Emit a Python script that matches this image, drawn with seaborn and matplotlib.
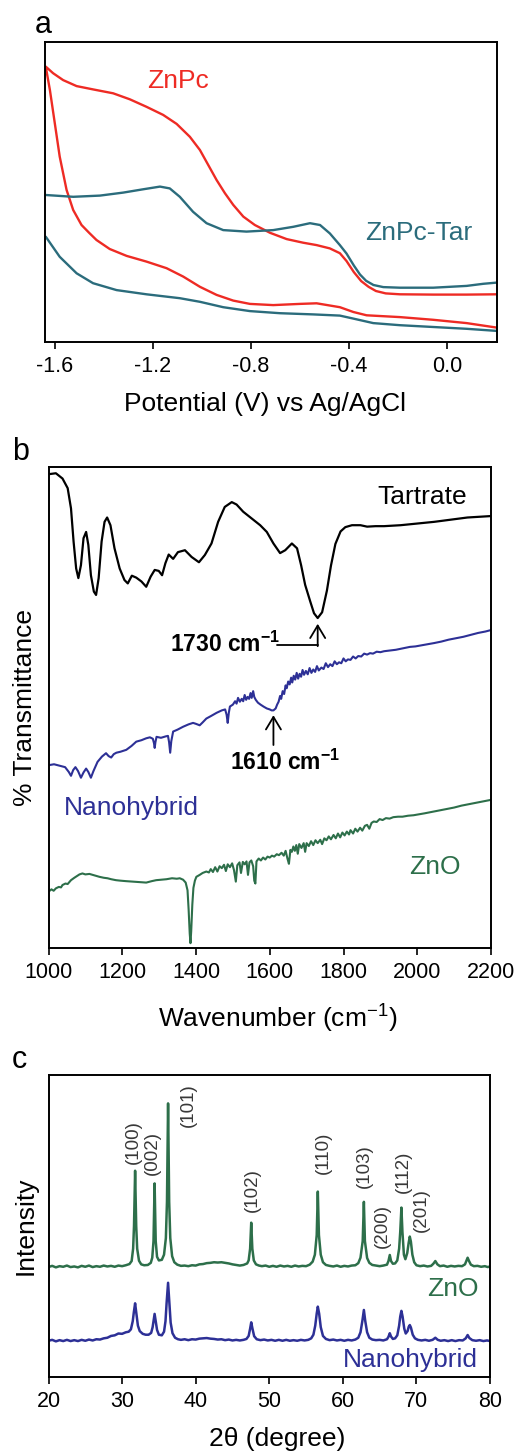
import numpy as np
import pandas as pd
import matplotlib
matplotlib.use("Agg")
import matplotlib.pyplot as plt
import seaborn as sns

# ---------------- (a) cyclic voltammetry ----------------
# upper (cathodic sweep) and lower (return sweep) branches, listed left to right
znpc_up_v = [-1.637, -1.607, -1.566, -1.511, -1.444, -1.362, -1.294, -1.226, -1.158, -1.103,
             -1.049, -1.008, -0.974, -0.940, -0.906, -0.872, -0.831, -0.784, -0.722, -0.654,
             -0.587, -0.532, -0.478, -0.437, -0.41, -0.38, -0.35, -0.32, -0.29, -0.25,
             -0.192, -0.056, 0.080, 0.203]
znpc_up_i = [91.8, 89.6, 87.3, 85.3, 84.2, 82.9, 80.9, 78.4, 75.7, 72.7,
             68.4, 64.0, 59.0, 54.0, 49.6, 45.7, 41.8, 39.0, 36.4, 34.3,
             33.1, 32.3, 31.2, 29.6, 27.0, 23.3, 20.3, 18.4, 17.0, 16.2,
             15.9, 15.8, 15.8, 15.9]
znpc_lo_v = [-1.637, -1.620, -1.600, -1.580, -1.552, -1.525, -1.491, -1.460, -1.430, -1.376,
             -1.307, -1.226, -1.144, -1.076, -1.008, -0.940, -0.872, -0.804, -0.709, -0.600,
             -0.532, -0.437, -0.382, -0.328, -0.192, -0.056, 0.080, 0.203]
znpc_lo_i = [91.8, 84.0, 72.9, 61.8, 50.7, 44.0, 39.0, 36.4, 34.0, 31.0,
             28.7, 26.8, 24.6, 21.8, 18.4, 15.7, 13.8, 12.7, 12.3, 12.7,
             12.9, 11.6, 10.0, 8.9, 8.3, 7.4, 6.3, 4.8]

tar_up_v = [-1.637, -1.525, -1.416, -1.321, -1.240, -1.171, -1.131, -1.090, -1.036, -0.981,
            -0.913, -0.818, -0.709, -0.627, -0.559, -0.518, -0.478, -0.437, -0.41, -0.38,
            -0.355, -0.33, -0.30, -0.26, -0.192, -0.056, 0.080, 0.148, 0.203]
tar_up_i = [49.0, 48.4, 48.8, 49.8, 50.9, 51.8, 51.2, 48.4, 43.4, 39.6,
            37.3, 36.8, 37.3, 38.4, 39.6, 39.0, 36.2, 32.3, 29.5, 25.5,
            22.5, 20.4, 19.0, 18.3, 18.1, 18.1, 18.7, 19.4, 19.8]
tar_lo_v = [-1.637, -1.580, -1.511, -1.444, -1.348, -1.226, -1.090, -1.008, -0.913, -0.804,
            -0.682, -0.546, -0.437, -0.382, -0.301, -0.192, -0.056, 0.080, 0.203]
tar_lo_i = [35.1, 28.4, 22.9, 19.6, 17.3, 15.9, 14.6, 13.4, 11.6, 10.3,
            9.6, 9.2, 8.8, 7.8, 6.3, 5.6, 5.0, 4.4, 3.7]

cv_ticks = [-1.6, -1.2, -0.8, -0.4, 0.0]

# ---------------- (b) FTIR ----------------
tartrate_wn = [1000, 1020, 1038, 1052, 1061, 1068, 1075, 1081, 1088, 1095,
               1102, 1108, 1115, 1123, 1129, 1136, 1144, 1152, 1159, 1168,
               1179, 1193, 1206, 1215, 1226, 1238, 1252, 1265, 1277, 1288,
               1299, 1308, 1317, 1326, 1338, 1351, 1370, 1388, 1408, 1424,
               1442, 1460, 1478, 1497, 1510, 1528, 1551, 1574, 1592, 1610,
               1628, 1642, 1660, 1674, 1685, 1696, 1710, 1720, 1730, 1742,
               1755, 1766, 1778, 1792, 1805, 1823, 1846, 1864, 1887, 1910,
               1955, 2046, 2136, 2200]
tartrate_t = [98.5, 98.7, 97.6, 95.6, 91.4, 84.5, 78.9, 76.9, 79.6, 85.2,
              86.5, 83.8, 77.5, 74.1, 73.4, 76.9, 84.5, 88.6, 89.5, 87.9,
              83.1, 78.9, 76.5, 75.8, 77.4, 77.0, 76.2, 75.1, 77.2, 78.6,
              78.4, 77.5, 80.0, 81.8, 80.9, 82.3, 82.7, 81.3, 80.2, 81.7,
              84.1, 88.6, 91.7, 92.7, 92.2, 90.7, 89.3, 87.9, 86.5, 84.1,
              82.1, 82.7, 84.1, 83.1, 79.6, 75.5, 72.0, 69.6, 68.6, 69.8,
              74.3, 79.5, 84.0, 86.6, 87.5, 87.9, 87.9, 87.6, 87.7, 87.7,
              87.9, 88.6, 89.5, 89.8]

hybrid_wn = [1000, 1015, 1030, 1045, 1055, 1061, 1067, 1073, 1080, 1088, 1095, 1102, 1108, 1115,
             1122, 1133, 1145, 1156, 1163, 1170, 1177, 1184, 1195, 1211, 1225, 1238, 1252, 1265,
             1275, 1283, 1286, 1288, 1290, 1293, 1305, 1318, 1324, 1327, 1330, 1333, 1338, 1350,
             1365, 1380, 1392, 1400, 1410, 1418, 1428, 1440, 1456, 1470, 1479, 1483, 1486, 1489,
             1492, 1500, 1506, 1510, 1514, 1519, 1524, 1528, 1532, 1536, 1540, 1544, 1548, 1551,
             1555, 1558, 1562, 1568, 1575, 1583, 1592, 1600, 1605, 1610, 1616, 1620, 1624, 1628,
             1631, 1635, 1639, 1643, 1646, 1650, 1654, 1658, 1661, 1665, 1669, 1673, 1677, 1681,
             1685, 1689, 1693, 1698, 1703, 1708, 1713, 1718, 1723, 1728, 1733, 1740, 1746, 1752,
             1758, 1764, 1770, 1776, 1782, 1788, 1794, 1800, 1806, 1812, 1819, 1826, 1833, 1840,
             1848, 1856, 1864, 1872, 1880, 1890, 1900, 1910, 1920, 1930, 1942, 1955, 1968, 1980,
             1995, 2010, 2025, 2046, 2065, 2085, 2105, 2125, 2145, 2165, 2185, 2200]
hybrid_t = [38.0, 38.2, 37.9, 37.6, 36.6, 35.8, 37.0, 37.6, 36.8, 35.4, 36.5, 37.3, 36.6, 35.4,
            36.8, 38.7, 39.8, 40.5, 39.9, 39.6, 40.3, 40.6, 40.8, 41.2, 42.0, 42.9, 43.2, 43.6,
            43.8, 43.5, 42.6, 41.6, 42.8, 43.9, 43.7, 44.0, 44.1, 42.8, 40.6, 43.0, 45.0, 45.4,
            46.0, 46.5, 46.8, 46.6, 46.3, 46.9, 47.7, 48.2, 48.9, 49.4, 49.6, 48.5, 46.8, 48.9,
            50.2, 50.6, 51.3, 50.8, 52.0, 51.2, 51.8, 51.3, 52.6, 51.6, 52.2, 51.8, 53.0, 52.0,
            53.4, 52.2, 51.6, 51.0, 50.6, 50.2, 49.8, 49.6, 49.4, 49.4, 49.8, 50.6, 51.2, 52.4,
            51.8, 53.4, 52.8, 54.6, 54.0, 55.4, 54.8, 56.2, 55.2, 56.6, 55.8, 57.2, 56.0, 57.0,
            56.4, 57.8, 56.8, 57.6, 56.9, 58.2, 57.2, 57.9, 57.4, 58.6, 57.7, 58.3, 58.0, 59.2,
            58.4, 59.0, 58.6, 59.6, 59.0, 59.4, 59.2, 60.2, 59.6, 60.0, 59.9, 60.6, 60.2, 60.7,
            60.6, 61.2, 61.0, 61.3, 61.2, 61.6, 61.5, 61.7, 61.8, 61.9, 62.0, 62.2, 62.4, 62.6,
            62.7, 62.9, 63.1, 63.4, 63.7, 64.1, 64.4, 64.7, 65.1, 65.5, 65.8, 66.1]

zno_wn = [1000, 1008, 1014, 1020, 1028, 1034, 1038, 1046, 1052, 1061, 1070, 1078, 1084, 1092,
          1100, 1111, 1120, 1130, 1138, 1150, 1160, 1170, 1183, 1195, 1210, 1229, 1245, 1265,
          1280, 1292, 1306, 1320, 1335, 1348, 1356, 1365, 1372, 1377, 1380, 1383, 1385, 1387,
          1390, 1393, 1397, 1401, 1410, 1418, 1428, 1435, 1440, 1446, 1452, 1458, 1464, 1470,
          1476, 1481, 1486, 1492, 1498, 1503, 1508, 1512, 1518, 1522, 1527, 1532, 1537, 1541,
          1545, 1550, 1555, 1558, 1561, 1564, 1570, 1576, 1582, 1588, 1594, 1600, 1606, 1612,
          1619, 1625, 1632, 1638, 1643, 1648, 1652, 1656, 1660, 1664, 1668, 1672, 1676, 1680,
          1686, 1692, 1696, 1700, 1706, 1712, 1718, 1724, 1730, 1737, 1742, 1748, 1754, 1760,
          1766, 1773, 1779, 1785, 1791, 1797, 1803, 1809, 1815, 1819, 1826, 1832, 1838, 1845,
          1851, 1858, 1864, 1870, 1876, 1882, 1890, 1898, 1906, 1915, 1925, 1935, 1948, 1960,
          1975, 1990, 2005, 2020, 2040, 2060, 2080, 2100, 2120, 2140, 2160, 2180, 2200]
zno_t = [11.7, 12.2, 11.9, 12.4, 12.7, 12.6, 13.1, 13.4, 13.3, 14.1, 14.6, 15.0, 15.3, 15.5,
         15.3, 15.4, 15.2, 15.0, 14.8, 14.6, 14.5, 14.3, 14.1, 14.0, 13.9, 13.8, 13.7, 13.6,
         13.9, 14.1, 14.2, 14.3, 14.5, 14.4, 14.5, 14.2, 13.6, 12.0, 8.0, 3.0, 1.0, 3.5,
         9.0, 12.5, 14.0, 14.8, 15.2, 15.6, 15.9, 15.7, 16.4, 15.8, 16.8, 15.9, 17.0, 16.6,
         17.3, 16.0, 17.4, 16.8, 17.6, 16.2, 13.8, 17.2, 17.8, 15.6, 17.9, 17.4, 18.0, 15.2,
         17.8, 18.2, 17.0, 14.0, 13.4, 18.0, 18.6, 18.2, 18.8, 18.4, 19.0, 18.8, 19.2, 19.0,
         19.5, 19.3, 19.8, 19.2, 20.2, 18.6, 17.5, 20.4, 20.0, 21.1, 20.2, 21.4, 19.6, 21.6,
         20.8, 21.8, 20.0, 21.8, 21.2, 22.2, 21.4, 22.4, 21.8, 22.5, 21.6, 22.8, 22.4, 23.2,
         22.6, 23.5, 22.8, 23.8, 23.0, 24.0, 23.4, 24.2, 23.6, 24.5, 23.8, 24.8, 24.2, 25.0,
         24.4, 25.4, 25.6, 24.8, 26.0, 26.3, 26.2, 26.8, 26.6, 27.0, 26.9, 27.2, 27.3, 27.3,
         27.5, 27.6, 27.8, 28.0, 28.3, 28.6, 28.9, 29.2, 29.6, 29.9, 30.2, 30.5, 30.8]

ir_ticks = [1000, 1200, 1400, 1600, 1800, 2000, 2200]

# ---------------- (c) XRD ----------------
xrd_zno_2t = [20.0, 20.5, 21.0, 21.5, 22.0, 22.5, 23.0, 23.5, 24.0, 24.5, 25.0, 25.5, 26.0, 26.5,
              27.0, 27.5, 28.0, 28.5, 29.0, 29.5, 30.0, 30.5, 31.0, 31.3, 31.5, 31.62, 31.77, 31.92,
              32.05, 32.3, 32.6, 33.0, 33.5, 33.9, 34.1, 34.27, 34.42, 34.57, 34.75, 35.0, 35.4, 35.7,
              35.95, 36.1, 36.25, 36.4, 36.55, 36.8, 37.1, 37.5, 38.0, 38.5, 39.0, 39.5, 40.0, 40.5,
              41.0, 41.5, 42.0, 42.5, 43.0, 43.5, 44.0, 44.5, 45.0, 45.5, 46.0, 46.5, 47.0, 47.2,
              47.4, 47.55, 47.7, 47.9, 48.2, 48.6, 49.0, 49.5, 50.0, 50.5, 51.0, 51.5, 52.0, 52.5,
              53.0, 53.5, 54.0, 54.5, 55.0, 55.5, 55.9, 56.2, 56.45, 56.6, 56.75, 57.0, 57.3, 57.7,
              58.2, 58.7, 59.2, 59.7, 60.2, 60.7, 61.2, 61.7, 62.1, 62.4, 62.7, 62.86, 63.0, 63.3,
              63.6, 64.0, 64.5, 65.0, 65.5, 66.0, 66.2, 66.38, 66.55, 66.8, 67.1, 67.4, 67.65, 67.8,
              67.96, 68.1, 68.3, 68.5, 68.75, 68.95, 69.1, 69.25, 69.45, 69.7, 70.0, 70.5, 71.0, 71.5,
              72.0, 72.3, 72.57, 72.85, 73.2, 73.7, 74.2, 74.7, 75.2, 75.7, 76.2, 76.6, 76.8, 76.96,
              77.15, 77.4, 77.8, 78.3, 78.8, 79.3, 79.7, 80.0]
xrd_zno_i = [36.4, 36.8, 36.3, 36.7, 36.5, 36.9, 36.4, 36.6, 36.3, 36.8, 36.5, 36.9, 36.4, 36.7,
             36.5, 36.9, 36.6, 36.8, 36.5, 36.9, 36.7, 37.0, 37.4, 38.4, 42.5, 50.0, 68.3, 50.0,
             42.5, 38.5, 37.3, 37.0, 37.1, 37.8, 39.5, 45.0, 64.1, 45.0, 39.8, 38.6, 38.8, 40.5,
             46.0, 58.0, 90.6, 58.0, 46.0, 40.0, 38.0, 37.2, 36.8, 36.9, 36.7, 37.0, 36.9, 37.3,
             37.4, 37.7, 37.8, 38.0, 37.9, 38.0, 37.8, 37.6, 37.3, 37.1, 36.9, 37.1, 37.6, 38.6,
             42.5, 51.1, 42.5, 38.6, 37.3, 36.9, 36.7, 36.9, 36.5, 36.8, 36.5, 36.9, 36.6, 36.8,
             36.5, 36.9, 36.6, 36.8, 36.7, 37.2, 38.2, 40.5, 47.0, 61.4, 47.0, 40.5, 38.0, 37.1,
             36.8, 36.6, 36.9, 36.5, 36.8, 36.6, 36.9, 37.0, 37.7, 39.5, 45.0, 58.0, 45.0, 39.4,
             37.8, 37.1, 36.9, 36.7, 36.9, 37.2, 38.4, 40.4, 38.4, 37.5, 37.6, 38.6, 42.5, 48.0,
             56.1, 48.0, 40.5, 39.0, 41.0, 44.5, 46.5, 44.8, 40.5, 38.0, 37.0, 36.7, 36.9, 36.6,
             36.8, 37.5, 38.4, 37.3, 36.7, 36.9, 36.5, 36.8, 36.6, 36.8, 36.7, 37.3, 38.5, 39.5,
             38.4, 37.2, 36.7, 36.8, 36.5, 36.7, 36.4, 36.6]

xrd_hyb_2t = [20.0, 20.5, 21.0, 21.5, 22.0, 22.5, 23.0, 23.5, 24.0, 24.5, 25.0, 25.5, 26.0, 26.5,
              27.0, 27.5, 28.0, 28.5, 29.0, 29.5, 30.0, 30.5, 30.9, 31.2, 31.45, 31.6, 31.77, 31.95,
              32.15, 32.4, 32.8, 33.2, 33.6, 33.95, 34.15, 34.3, 34.42, 34.55, 34.75, 35.0, 35.4, 35.7,
              35.9, 36.05, 36.25, 36.42, 36.6, 36.85, 37.2, 37.6, 38.0, 38.5, 39.0, 39.5, 40.0, 40.5,
              41.0, 41.5, 42.0, 42.5, 43.0, 43.5, 44.0, 44.5, 45.0, 45.5, 46.0, 46.5, 46.9, 47.2,
              47.4, 47.55, 47.72, 47.95, 48.3, 48.8, 49.3, 49.8, 50.3, 50.8, 51.3, 51.8, 52.3, 52.8,
              53.3, 53.8, 54.3, 54.8, 55.3, 55.7, 56.0, 56.25, 56.45, 56.6, 56.78, 57.0, 57.3, 57.7,
              58.2, 58.7, 59.2, 59.7, 60.2, 60.7, 61.2, 61.7, 62.1, 62.4, 62.65, 62.86, 63.05, 63.3,
              63.6, 64.0, 64.5, 65.0, 65.5, 66.0, 66.2, 66.38, 66.55, 66.8, 67.1, 67.4, 67.65, 67.8,
              67.96, 68.12, 68.35, 68.55, 68.8, 68.95, 69.1, 69.25, 69.5, 69.8, 70.2, 70.7, 71.2, 71.7,
              72.2, 72.57, 72.9, 73.3, 73.8, 74.3, 74.8, 75.3, 75.8, 76.3, 76.7, 76.96, 77.2, 77.6,
              78.1, 78.6, 79.1, 79.6, 80.0]
xrd_hyb_i = [12.0, 12.3, 11.8, 12.2, 11.9, 12.3, 11.9, 12.2, 11.9, 12.3, 12.0, 12.4, 12.1, 12.5,
             12.4, 12.8, 13.0, 13.6, 13.8, 14.4, 14.3, 14.8, 15.0, 15.8, 18.5, 21.5, 24.4, 21.0,
             17.0, 15.2, 14.3, 14.0, 14.0, 14.6, 16.5, 19.0, 20.9, 18.8, 15.6, 14.0, 13.8, 15.0,
             18.5, 24.5, 31.2, 24.5, 18.0, 14.5, 13.0, 12.5, 12.3, 12.5, 12.2, 12.5, 12.4, 12.7,
             12.8, 12.9, 12.7, 12.6, 12.4, 12.5, 12.2, 12.4, 12.1, 12.3, 12.1, 12.3, 12.6, 13.6,
             16.0, 18.1, 16.0, 13.5, 12.5, 12.2, 12.4, 12.1, 12.3, 12.0, 12.3, 12.0, 12.3, 12.0,
             12.2, 12.0, 12.3, 12.1, 12.3, 12.8, 14.0, 17.0, 21.0, 23.3, 21.0, 16.5, 13.6, 12.6,
             12.2, 12.4, 12.1, 12.3, 12.0, 12.3, 12.1, 12.4, 13.0, 14.8, 18.5, 22.2, 18.5, 14.8,
             13.0, 12.4, 12.2, 12.3, 12.1, 12.5, 13.3, 14.5, 13.4, 12.6, 12.8, 13.8, 17.0, 20.0,
             21.9, 20.0, 16.0, 14.4, 15.2, 16.6, 17.2, 16.4, 14.0, 12.8, 12.3, 12.1, 12.3, 12.0,
             12.3, 13.0, 12.3, 12.0, 12.2, 11.9, 12.2, 11.9, 12.2, 12.1, 12.8, 13.9, 12.9, 12.2,
             12.0, 12.2, 11.9, 12.1, 11.9]

xrd_ticks = [20, 30, 40, 50, 60, 70, 80]
hkl_labels = ["(100)", "(002)", "(101)", "(102)", "(110)", "(103)", "(200)", "(112)", "(201)"]
hkl_pos = [31.57, 34.09, 39.04, 47.67, 57.38, 62.88, 65.33, 68.25, 70.69]
hkl_height = [77.8, 74.2, 90.1, 61.9, 74.2, 69.9, 50.0, 67.9, 55.3]

# ---------------- styling ----------------
sns.set_theme(style="ticks")
plt.rcParams["font.family"] = ["Liberation Sans", "DejaVu Sans"]
plt.rcParams["axes.unicode_minus"] = False
plt.rcParams["mathtext.fontset"] = "custom"
plt.rcParams["mathtext.rm"] = "Liberation Sans"
plt.rcParams["mathtext.it"] = "Liberation Sans:italic"
plt.rcParams["mathtext.bf"] = "Liberation Sans:bold"
plt.rcParams["text.color"] = "black"
plt.rcParams["axes.labelcolor"] = "black"
plt.rcParams["xtick.color"] = "black"
plt.rcParams["ytick.color"] = "black"

RED = "#EE2B24"
TEAL = "#2B6C7C"
BLUE = "#2D3096"
GREEN = "#2D6F4A"
HKL_GREY = "#383838"

TICK_FS = 15.5
LABEL_FS = 19
CURVE_FS = 19

fig = plt.figure(figsize=(5.18, 14.55), dpi=100)
W, H = 518, 1455


def add_axes_px(left, top, right, bottom):
    return fig.add_axes([left / W, 1 - bottom / H, (right - left) / W, (bottom - top) / H])


def style_axes(ax):
    for sp in ax.spines.values():
        sp.set_visible(True)
        sp.set_linewidth(1.4)
        sp.set_color("black")
    ax.set_yticks([])
    ax.tick_params(axis="x", direction="out", length=5, width=1.2, pad=5,
                   labelsize=TICK_FS, colors="black", top=False)
    ax.set_ylabel("")
    ax.set_xlabel("")


# ---------------- panel a ----------------
ax_a = add_axes_px(45, 42, 497, 342)
cv_znpc = pd.DataFrame({"E": znpc_up_v[::-1] + znpc_lo_v, "I": znpc_up_i[::-1] + znpc_lo_i})
sns.lineplot(data=cv_znpc, x="E", y="I", sort=False, estimator=None, color=RED, lw=1.7, ax=ax_a)
for ev, iv in [(tar_up_v, tar_up_i), (tar_lo_v, tar_lo_i)]:
    sns.lineplot(x=ev, y=iv, sort=False, estimator=None, color=TEAL, lw=1.7, ax=ax_a)
ax_a.set_xlim(-1.64, 0.204)
ax_a.set_ylim(0, 100)
style_axes(ax_a)
ax_a.set_xticks(cv_ticks)
ax_a.set_xticklabels([f"{t:.1f}" for t in cv_ticks])
ax_a.set_xlabel("Potential (V) vs Ag/AgCl", fontsize=LABEL_FS)
ax_a.xaxis.set_label_coords(0.487, -0.168)
ax_a.text(-1.097, 84.8, "ZnPc", color=RED, fontsize=CURVE_FS, ha="center", va="baseline")
ax_a.text(-0.335, 34.1, "ZnPc-Tar", color=TEAL, fontsize=CURVE_FS, ha="left", va="baseline")

# ---------------- panel b ----------------
ax_b = add_axes_px(48.5, 467, 491, 948)
sns.lineplot(x=tartrate_wn, y=tartrate_t, sort=False, estimator=None, color="black", lw=1.6, ax=ax_b)
sns.lineplot(x=hybrid_wn, y=hybrid_t, sort=False, estimator=None, color=BLUE, lw=1.5, ax=ax_b)
sns.lineplot(x=zno_wn, y=zno_t, sort=False, estimator=None, color=GREEN, lw=1.5, ax=ax_b)
ax_b.set_xlim(1000, 2200)
ax_b.set_ylim(0, 100)
style_axes(ax_b)
ax_b.set_xticks(ir_ticks)
ax_b.set_xticklabels([str(t) for t in ir_ticks])
ax_b.set_xlabel("Wavenumber (cm$^{-1}$)", fontsize=LABEL_FS)
ax_b.xaxis.set_label_coords(0.517, -0.113)
ax_b.set_ylabel("% Transmittance", fontsize=LABEL_FS)
ax_b.yaxis.set_label_coords(-0.025, 0.5)
ax_b.text(1892, 92.3, "Tartrate", color="black", fontsize=CURVE_FS, ha="left", va="baseline")
ax_b.text(1043, 27.7, "Nanohybrid", color=BLUE, fontsize=CURVE_FS, ha="left", va="baseline")
ax_b.text(1978, 15.4, "ZnO", color=GREEN, fontsize=CURVE_FS, ha="left", va="baseline")

# 1730 cm-1 marker: label, elbow line and arrow up to the carbonyl band
ax_b.text(1329, 61.6, "1730 cm$^{\\mathbf{-1}}$", fontsize=16.5, fontweight="bold",
          ha="left", va="baseline")
ax_b.plot([1620, 1730], [63.0, 63.0], color="black", lw=1.3)
ax_b.annotate("", xy=(1730, 67.4), xytext=(1730, 62.75),
              arrowprops=dict(arrowstyle="->,head_length=0.5,head_width=0.3", lw=1.3,
                              color="black", shrinkA=0, shrinkB=0, mutation_scale=18))
# 1610 cm-1 marker
ax_b.annotate("", xy=(1610, 48.4), xytext=(1610, 42.2),
              arrowprops=dict(arrowstyle="->,head_length=0.5,head_width=0.3", lw=1.3,
                              color="black", shrinkA=0, shrinkB=0, mutation_scale=18))
ax_b.text(1493, 37.0, "1610 cm$^{\\mathbf{-1}}$", fontsize=16.5, fontweight="bold",
          ha="left", va="baseline")

# ---------------- panel c ----------------
ax_c = add_axes_px(48.5, 1075, 490, 1377)
sns.lineplot(x=xrd_zno_2t, y=xrd_zno_i, sort=False, estimator=None, color=GREEN, lw=1.8, ax=ax_c)
sns.lineplot(x=xrd_hyb_2t, y=xrd_hyb_i, sort=False, estimator=None, color=BLUE, lw=1.8, ax=ax_c)
ax_c.set_xlim(20, 80)
ax_c.set_ylim(0, 100)
style_axes(ax_c)
ax_c.set_xticks(xrd_ticks)
ax_c.set_xticklabels([str(t) for t in xrd_ticks])
ax_c.set_xlabel("2\u03b8 (degree)", fontsize=LABEL_FS)
ax_c.xaxis.set_label_coords(0.519, -0.165)
ax_c.set_ylabel("Intensity", fontsize=LABEL_FS)
ax_c.yaxis.set_label_coords(-0.025, 0.5)
for lab, xp, yp in zip(hkl_labels, hkl_pos, hkl_height):
    ax_c.text(xp, yp, lab, rotation=90, fontsize=13.5, color=HKL_GREY, ha="center", va="center")
ax_c.text(78.4, 26.9, "ZnO", color=GREEN, fontsize=CURVE_FS, ha="right", va="baseline")
ax_c.text(78.4, 3.2, "Nanohybrid", color=BLUE, fontsize=CURVE_FS, ha="right", va="baseline")

# ---------------- panel letters ----------------
fig.text(35 / W, 1 - 33 / H, "a", fontsize=22, ha="left", va="baseline")
fig.text(12 / W, 1 - 460 / H, "b", fontsize=22, ha="left", va="baseline")
fig.text(12 / W, 1 - 1068 / H, "c", fontsize=22, ha="left", va="baseline")

fig.savefig("out.png", dpi=100)
